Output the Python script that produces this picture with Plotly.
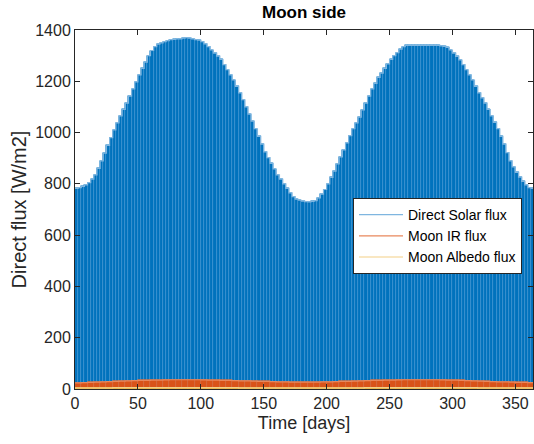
import plotly.graph_objects as go

solar_days = [i * 2.5 for i in range(147)]
solar_peak = [782, 785, 790, 796, 805, 818, 835, 860, 890, 920,
              950, 980, 1010, 1038, 1065, 1090, 1115, 1142, 1170, 1198,
              1225, 1250, 1275, 1300, 1320, 1335, 1345, 1350, 1355, 1358,
              1362, 1363, 1365, 1365, 1368, 1370, 1368, 1365, 1362, 1360,
              1355, 1346, 1335, 1322, 1310, 1298, 1285, 1265, 1245, 1225,
              1205, 1180, 1155, 1128, 1100, 1072, 1045, 1015, 985, 955,
              925, 902, 880, 858, 835, 818, 800, 782, 765, 750,
              740, 736, 733, 731, 730, 732, 735, 745, 760, 778,
              800, 825, 850, 878, 905, 932, 960, 988, 1015, 1038,
              1060, 1088, 1115, 1142, 1170, 1192, 1215, 1232, 1250, 1268,
              1285, 1300, 1312, 1325, 1335, 1340, 1340, 1340, 1340, 1340,
              1340, 1340, 1340, 1340, 1340, 1340, 1338, 1336, 1332, 1322,
              1310, 1297, 1283, 1265, 1245, 1225, 1205, 1180, 1155, 1135,
              1115, 1090, 1065, 1040, 1015, 985, 955, 922, 890, 866,
              845, 826, 810, 796, 785, 782, 780]

flux_days = list(range(0, 366, 5))
ir_peak = [24, 25, 26, 27, 28, 29, 30, 31, 32, 33,
           33.5, 34, 35, 35, 35.5, 36, 36, 36, 36, 36,
           35.5, 35, 34.5, 34, 33.5, 33, 32, 31.5, 31, 30,
           29.5, 29, 28, 27.5, 27, 27, 27, 27, 27, 27.5,
           28, 29, 29.5, 30, 31, 32, 33, 33.5, 34, 34.5,
           35, 35.5, 36, 36, 36, 36, 36, 36, 35.5, 35,
           34.5, 34, 33, 32, 31, 30, 29, 28, 27.5, 27,
           26, 25.5, 25, 24.5]

albedo_peak = [4, 4, 4, 4.5, 4.5, 4.5, 5, 5, 5, 5,
               5, 5, 5, 5, 5, 5, 5, 5, 5, 5,
               5, 5, 5, 5, 5, 5, 4.5, 4.5, 4.5, 4.5,
               4.5, 4.5, 4, 4, 4, 4, 4, 4, 4, 4,
               4, 4, 4.5, 4.5, 4.5, 4.5, 5, 5, 5, 5,
               5, 5, 5, 5, 5, 5, 5, 5, 5, 5,
               5, 5, 5, 5, 4.5, 4.5, 4.5, 4.5, 4.5, 4.5,
               4, 4, 4, 4]

names = ["Direct Solar flux", "Moon IR flux", "Moon Albedo flux"]
fill_colors = ["#0072BD", "#D95319", "#EDB120"]
stripe_colors = ["#3f93d2", "#e0703f", "#f2c25a"]
legend_colors = ["#7fb6e0", "#e8875c", "#f4cf85"]
series_x = [solar_days, flux_days, flux_days]
series_y = [solar_peak, ir_peak, albedo_peak]
widths = [2.5, 5, 5]

fig = go.Figure()
for xs, ys, w, fc, sc in zip(series_x, series_y, widths, fill_colors, stripe_colors):
    fig.add_trace(go.Bar(x=xs, y=ys, width=w, offset=0,
                         marker=dict(color=fc, line=dict(color=sc, width=0.6)),
                         showlegend=False, hoverinfo="skip"))
for xs, ys, w, name, lc in zip(series_x, series_y, widths, names, legend_colors):
    fig.add_trace(go.Scatter(x=xs + [xs[-1] + w], y=ys + [ys[-1]], mode="lines",
                             line=dict(color=lc, width=1.2, shape="hv"), name=name))

font_family = "Liberation Sans, Arial, sans-serif"
axis_common = dict(showline=True, linecolor="#262626", linewidth=1, mirror="ticks",
                   ticks="inside", ticklen=5, tickcolor="#262626", showgrid=False,
                   zeroline=False, tickfont=dict(family=font_family, size=16, color="#262626"))

fig.update_layout(
    width=534, height=444,
    margin=dict(l=75, r=1, t=30, b=55),
    paper_bgcolor="white", plot_bgcolor="white",
    barmode="overlay", bargap=0,
    title=dict(text="<b>Moon side</b>", x=0.5, xref="paper", xanchor="center", y=0.973, yanchor="middle",
               font=dict(family=font_family, size=17, color="black")),
    xaxis=dict(range=[0, 364], tickvals=[0, 50, 100, 150, 200, 250, 300, 350],
               title=dict(text="Time [days]", font=dict(family=font_family, size=18, color="#262626"), standoff=5),
               **axis_common),
    yaxis=dict(range=[0, 1400], tickvals=[0, 200, 400, 600, 800, 1000, 1200, 1400],
               title=dict(text="Direct flux [W/m2]", font=dict(family=font_family, size=20, color="#262626"), standoff=3),
               **axis_common),
    legend=dict(x=0.976, y=0.532, xanchor="right", yanchor="top",
                bgcolor="white", bordercolor="#262626", borderwidth=1,
                font=dict(family=font_family, size=14, color="black"),
                tracegroupgap=0, itemwidth=44),
)

fig.write_html("out.html")
